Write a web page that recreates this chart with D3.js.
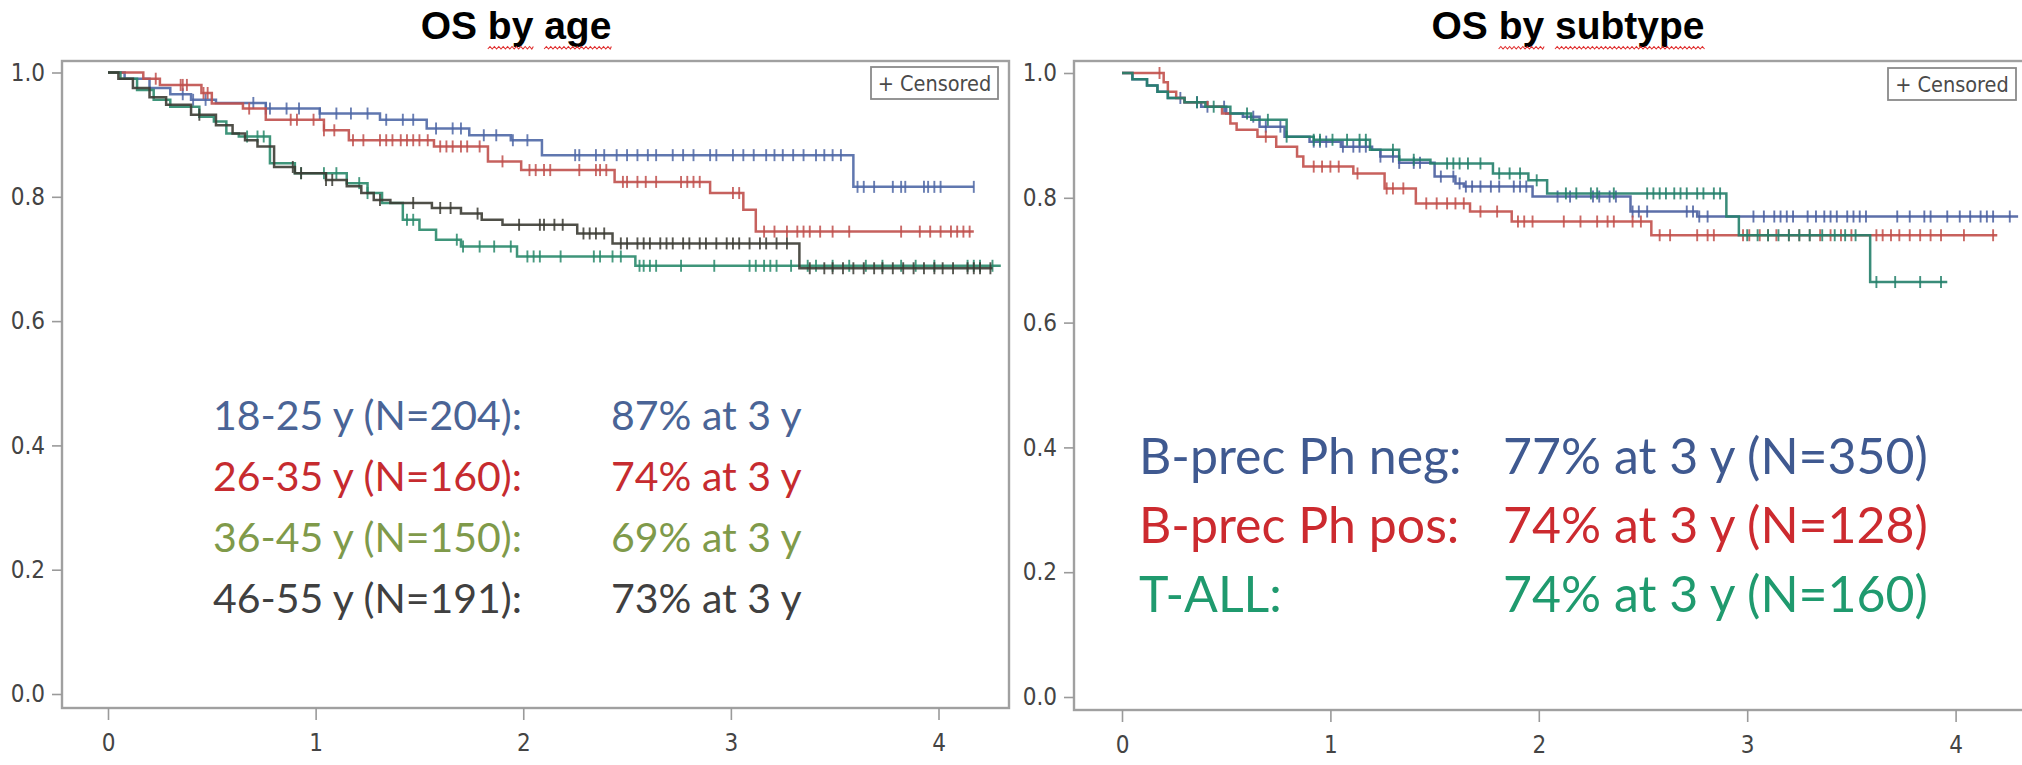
<!DOCTYPE html>
<html><head><meta charset="utf-8">
<script src="https://cdn.jsdelivr.net/npm/d3@7"></script>
<style>
html,body{margin:0;padding:0;background:#fff;}
svg{display:block;}
</style></head>
<body>
<svg id="chart" width="2022" height="765"></svg>
<script>
// ---------------- DATA ----------------
const panelTitles = ["OS by age", "OS by subtype"];
const xTicks = [0, 1, 2, 3, 4];
const yTicks = [0, 0.2, 0.4, 0.6, 0.8, 1.0];
const legendLabel = "+ Censored";

// Panel 1: OS by age  (steps: [time (y), survival after drop])
const ageLabels = ["18-25 y (N=204):", "26-35 y (N=160):", "36-45 y (N=150):", "46-55 y (N=191):"];
const ageRates  = ["87% at 3 y", "74% at 3 y", "69% at 3 y", "73% at 3 y"];
const ageSteps1825 = [[0,1],[0.08,0.99],[0.2,0.975],[0.3,0.965],[0.4,0.956],[0.52,0.951],[0.76,0.942],[1.02,0.934],[1.31,0.924],[1.535,0.91],[1.74,0.899],[1.94,0.891],[2.09,0.867],[3.59,0.816]];
const ageSteps2635 = [[0,1],[0.17,0.99],[0.25,0.98],[0.45,0.967],[0.5,0.95],[0.65,0.942],[0.76,0.924],[1.04,0.907],[1.16,0.891],[1.57,0.881],[1.83,0.857],[1.99,0.843],[2.44,0.824],[2.9,0.806],[3.06,0.779],[3.12,0.744]];
const ageSteps3645 = [[0,1],[0.06,0.99],[0.14,0.972],[0.22,0.956],[0.3,0.945],[0.44,0.929],[0.51,0.921],[0.57,0.902],[0.63,0.897],[0.78,0.854],[0.9,0.838],[1.15,0.822],[1.25,0.806],[1.32,0.79],[1.42,0.763],[1.5,0.747],[1.58,0.731],[1.7,0.72],[1.97,0.704],[2.54,0.689]];
const ageSteps4655 = [[0,1],[0.05,0.99],[0.12,0.975],[0.2,0.96],[0.28,0.948],[0.4,0.932],[0.52,0.915],[0.6,0.902],[0.66,0.891],[0.72,0.881],[0.8,0.848],[0.9,0.838],[1.05,0.827],[1.15,0.817],[1.22,0.806],[1.28,0.795],[1.36,0.79],[1.56,0.782],[1.7,0.773],[1.8,0.763],[1.9,0.755],[2.26,0.741],[2.43,0.725],[3.33,0.685]];
const ageEnds = [4.17, 4.17, 4.3, 4.26];
const ageCens1825 = [0.36,0.41,0.47,0.70,0.76,0.78,0.86,0.92,1.02,1.10,1.17,1.25,1.34,1.42,1.47,1.58,1.66,1.70,1.81,1.87,1.95,2.02,2.25,2.27,2.35,2.39,2.45,2.50,2.55,2.60,2.64,2.72,2.77,2.82,2.90,2.93,3.01,3.06,3.11,3.17,3.21,3.25,3.30,3.35,3.41,3.45,3.49,3.53,3.61,3.64,3.69,3.78,3.82,3.84,3.93,3.95,3.98,4.01,4.17];
const ageCens2635 = [0.23,0.35,0.36,0.38,0.46,0.48,0.68,0.88,0.91,0.99,1.04,1.09,1.18,1.23,1.31,1.34,1.37,1.41,1.44,1.47,1.50,1.54,1.60,1.63,1.66,1.70,1.73,1.79,1.90,2.03,2.06,2.10,2.13,2.27,2.35,2.37,2.40,2.48,2.50,2.55,2.59,2.64,2.76,2.79,2.82,2.85,3.01,3.04,3.16,3.21,3.27,3.32,3.35,3.38,3.43,3.49,3.57,3.82,3.91,3.96,4.01,4.06,4.09,4.12,4.15];
const ageCens3645 = [0.67,0.72,0.75,0.93,1.04,1.10,1.21,1.25,1.44,1.47,1.68,1.71,1.79,1.86,1.94,2.02,2.05,2.08,2.18,2.34,2.37,2.43,2.47,2.56,2.58,2.61,2.64,2.76,2.92,3.09,3.12,3.16,3.19,3.22,3.29,3.37,3.41,3.49,3.57,3.65,3.73,3.82,3.89,3.98,4.14,4.17,4.20,4.26];
const ageCens4655 = [0.44,0.89,0.93,1.05,1.08,1.31,1.47,1.60,1.65,1.78,1.98,2.08,2.10,2.15,2.19,2.29,2.32,2.35,2.39,2.47,2.50,2.55,2.58,2.61,2.66,2.69,2.72,2.77,2.80,2.85,2.88,2.93,2.98,3.01,3.04,3.09,3.14,3.17,3.22,3.27,3.38,3.45,3.49,3.54,3.59,3.64,3.69,3.73,3.78,3.83,3.88,3.93,3.98,4.02,4.07,4.14,4.17,4.20,4.25];

// Panel 2: OS by subtype
const subLabels = ["B-prec Ph neg:", "B-prec Ph pos:", "T-ALL:"];
const subRates  = ["77% at 3 y (N=350)", "74% at 3 y (N=128)", "74% at 3 y (N=160)"];
const subStepsNeg = [[0,1],[0.05,0.99],[0.12,0.98],[0.17,0.97],[0.22,0.96],[0.3,0.953],[0.38,0.946],[0.5,0.935],[0.58,0.93],[0.66,0.914],[0.78,0.898],[0.9,0.89],[1.05,0.882],[1.2,0.877],[1.24,0.866],[1.33,0.856],[1.5,0.834],[1.6,0.823],[1.64,0.818],[1.97,0.802],[2.44,0.778],[2.76,0.77]];
const subStepsPos = [[0,1],[0.2,0.985],[0.22,0.97],[0.26,0.96],[0.3,0.953],[0.41,0.946],[0.48,0.935],[0.52,0.919],[0.55,0.909],[0.65,0.898],[0.74,0.882],[0.84,0.866],[0.87,0.85],[1.11,0.839],[1.26,0.815],[1.41,0.791],[1.67,0.778],[1.87,0.762],[2.54,0.74]];
const subStepsT   = [[0,1],[0.05,0.99],[0.12,0.98],[0.17,0.97],[0.22,0.96],[0.3,0.953],[0.4,0.946],[0.52,0.935],[0.62,0.925],[0.79,0.898],[0.92,0.893],[1.19,0.877],[1.33,0.861],[1.48,0.855],[1.78,0.839],[1.95,0.828],[2.04,0.807],[2.9,0.77],[2.96,0.74],[3.59,0.665]];
const subEnds = [4.3, 4.2, 3.96];
const subCensNeg = [0.28,0.36,0.41,0.49,0.63,0.69,0.76,0.92,0.95,0.98,1.06,1.11,1.14,1.17,1.24,1.30,1.33,1.40,1.43,1.53,1.59,1.62,1.65,1.68,1.72,1.77,1.81,1.88,1.91,1.94,2.09,2.15,2.26,2.29,2.34,2.37,2.45,2.48,2.52,2.71,2.74,2.77,2.81,3.03,3.08,3.13,3.16,3.19,3.22,3.29,3.33,3.37,3.40,3.43,3.48,3.51,3.54,3.57,3.72,3.78,3.85,3.88,3.96,4.02,4.07,4.12,4.15,4.18,4.26];
const subCensPos = [0.18,0.69,0.92,0.96,1.00,1.04,1.13,1.27,1.30,1.35,1.46,1.51,1.56,1.60,1.64,1.72,1.80,1.90,1.93,1.97,2.12,2.20,2.28,2.33,2.36,2.45,2.49,2.58,2.63,2.76,2.81,2.84,2.98,3.01,3.06,3.10,3.14,3.20,3.25,3.30,3.35,3.40,3.45,3.50,3.62,3.65,3.69,3.73,3.78,3.83,3.88,3.93,4.04,4.18];
const subCensT   = [0.36,0.44,0.60,0.70,0.79,0.92,0.95,1.01,1.08,1.14,1.17,1.30,1.40,1.56,1.59,1.62,1.66,1.72,1.81,1.86,1.91,1.99,2.13,2.18,2.25,2.28,2.36,2.52,2.55,2.58,2.61,2.65,2.68,2.71,2.76,2.79,2.84,2.87,3.00,3.05,3.10,3.15,3.20,3.25,3.30,3.36,3.42,3.47,3.52,3.62,3.71,3.83,3.93];

// ---------------- STYLE ----------------
const ageCurveColors = ["#4f68a6", "#c0504d", "#2a8a6c", "#3c3c34"];
const ageTextColors  = ["#4a6496", "#c62b2f", "#7f9a4a", "#404040"];
const subCurveColors = ["#4a5fa0", "#c2504b", "#23806a"];
const subTextColors  = ["#3f5990", "#cc2a2f", "#1f9a6e"];
const tickFont = "'Liberation Sans Narrow','DejaVu Sans Condensed','Arial Narrow',sans-serif";
const annFont = "Lato, 'Open Sans', sans-serif";

const svg = d3.select("#chart");
svg.append("rect").attr("width", 2022).attr("height", 765).attr("fill", "#fff");

function survAt(steps, t) {
  let s = steps[0][1];
  for (const p of steps) { if (p[0] <= t) s = p[1]; else break; }
  return s;
}

function drawPanel(cfg) {
  const g = svg.append("g");
  const x = d3.scaleLinear().domain([0, 4]).range(cfg.xRange);
  const y = d3.scaleLinear().domain([0, 1]).range(cfg.yRange);

  // frame
  g.append("rect").attr("x", cfg.frame[0]).attr("y", cfg.frame[1])
    .attr("width", cfg.frame[2] - cfg.frame[0]).attr("height", cfg.frame[3] - cfg.frame[1])
    .attr("fill", "#fff").attr("stroke", "#a0a0a0").attr("stroke-width", 2.4);

  // axes
  const ya = g.append("g").attr("transform", `translate(${cfg.frame[0]},0)`)
    .call(d3.axisLeft(y).tickValues(yTicks).tickFormat(d3.format(".1f")).tickSize(10).tickPadding(7));
  const xa = g.append("g").attr("transform", `translate(0,${cfg.frame[3]})`)
    .call(d3.axisBottom(x).tickValues(xTicks).tickFormat(d3.format("d")).tickSize(12).tickPadding(14));
  [ya, xa].forEach(a => {
    a.select(".domain").remove();
    a.selectAll(".tick line").attr("stroke", "#9a9a9a").attr("stroke-width", 1.6);
    a.selectAll(".tick text").attr("fill", "#444").style("font-family", tickFont).style("font-size", "24px");
  });

  // curves
  const line = d3.line().x(d => x(d[0])).y(d => y(d[1])).curve(d3.curveStepAfter);
  cfg.series.forEach((s, i) => {
    const last = s.steps[s.steps.length - 1];
    const pts = s.steps.concat([[s.end, last[1]]]);
    g.append("path").attr("d", line(pts)).attr("fill", "none")
      .attr("stroke", cfg.curveColors[i]).attr("stroke-width", 2.5).attr("opacity", 0.9);
    g.append("g").selectAll("line").data(s.cens).join("line")
      .attr("x1", d => x(d)).attr("x2", d => x(d))
      .attr("y1", d => y(survAt(s.steps, d)) - 6).attr("y2", d => y(survAt(s.steps, d)) + 6)
      .attr("stroke", cfg.curveColors[i]).attr("stroke-width", 1.9).attr("opacity", 0.85);
  });

  // legend box
  const lg = g.append("g");
  lg.append("rect").attr("x", cfg.legend[0]).attr("y", cfg.legend[1])
    .attr("width", cfg.legend[2]).attr("height", cfg.legend[3])
    .attr("fill", "#fff").attr("stroke", "#8a8a8a").attr("stroke-width", 1.8);
  lg.append("text").attr("x", cfg.legend[0] + cfg.legend[2] / 2).attr("y", cfg.legend[1] + cfg.legend[3] / 2 + 7.5)
    .attr("text-anchor", "middle").attr("fill", "#4a4a4a")
    .style("font-family", tickFont).style("font-size", "21.5px").text(legendLabel);

  // title
  const tt = svg.append("text").attr("x", cfg.titleX).attr("y", 39).attr("text-anchor", "middle")
    .style("font-family", "'Liberation Sans', Arial, sans-serif").style("font-weight", "bold")
    .style("font-size", "39px").attr("fill", "#000").text(cfg.title);
  // spell-check squiggles under the words after "OS "
  const words = cfg.title.split(" ");
  let idx = 0;
  const node = tt.node();
  words.forEach((w, wi) => {
    if (wi > 0) {
      const x0 = node.getStartPositionOfChar(idx).x;
      const x1 = node.getEndPositionOfChar(idx + w.length - 1).x;
      let d = `M${x0},49`;
      for (let xx = x0, k = 0; xx < x1; xx += 2.2, k++) d += ` L${Math.min(xx + 2.2, x1)},${k % 2 ? 49 : 46.5}`;
      svg.append("path").attr("d", d).attr("fill", "none").attr("stroke", "#e03030").attr("stroke-width", 1.1);
    }
    idx += w.length + 1;
  });

  // annotations
  cfg.labels.forEach((lab, i) => {
    g.append("text").attr("x", cfg.annX[0]).attr("y", cfg.annY[i]).attr("fill", cfg.textColors[i])
      .style("font-family", annFont).style("font-size", cfg.annSize + "px").text(lab);
    g.append("text").attr("x", cfg.annX[1]).attr("y", cfg.annY[i]).attr("fill", cfg.textColors[i])
      .style("font-family", annFont).style("font-size", cfg.annSize + "px").text(cfg.rates[i]);
  });
}

drawPanel({
  title: panelTitles[0], titleX: 516,
  frame: [62, 61, 1009, 708], xRange: [108, 938.5], yRange: [694, 72.5],
  legend: [871, 67, 127, 32],
  series: [
    {steps: ageSteps1825, end: ageEnds[0], cens: ageCens1825},
    {steps: ageSteps2635, end: ageEnds[1], cens: ageCens2635},
    {steps: ageSteps3645, end: ageEnds[2], cens: ageCens3645},
    {steps: ageSteps4655, end: ageEnds[3], cens: ageCens4655}
  ],
  curveColors: ageCurveColors, textColors: ageTextColors,
  labels: ageLabels, rates: ageRates,
  annX: [213, 611], annY: [430, 491, 552, 613], annSize: 41
});

drawPanel({
  title: panelTitles[1], titleX: 1568,
  frame: [1074, 61, 2040, 710], xRange: [1122, 1955.6], yRange: [697, 73],
  legend: [1888, 68, 128, 32],
  series: [
    {steps: subStepsNeg, end: subEnds[0], cens: subCensNeg},
    {steps: subStepsPos, end: subEnds[1], cens: subCensPos},
    {steps: subStepsT, end: subEnds[2], cens: subCensT}
  ],
  curveColors: subCurveColors, textColors: subTextColors,
  labels: subLabels, rates: subRates,
  annX: [1139, 1503], annY: [474, 543, 612], annSize: 50
});
</script>
</body></html>
